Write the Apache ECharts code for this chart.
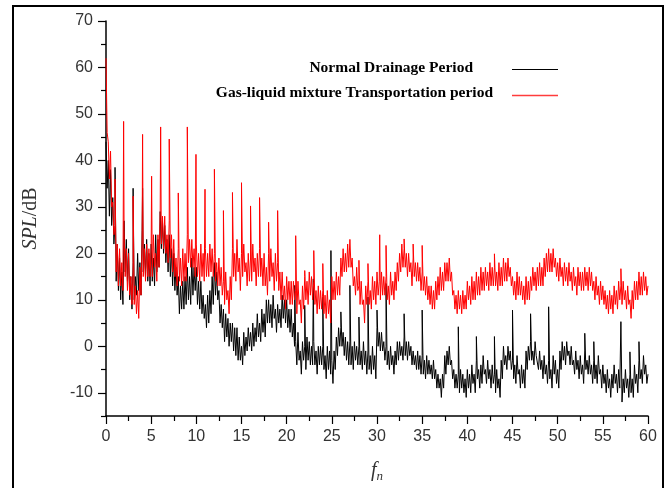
<!DOCTYPE html>
<html>
<head>
<meta charset="utf-8">
<script src="https://cdn.jsdelivr.net/npm/echarts@6/dist/echarts.min.js"></script>
<style>
  html, body { margin: 0; padding: 0; background: #fff; }
  #chart { width: 670px; height: 488px; }
</style>
</head>
<body>
<div id="chart"></div>
<script>
    var STEP = 0.125;
    var normal_base = [
        44, 34, 40, 28, 38, 26, 32, 22,
        26, 14, 22, 12, 19, 10, 16, 9,
        27, 16, 23, 14, 21, 10, 15, 8,
        18, 10, 15, 11, 20, 12, 18, 11,
        25, 16, 22, 15, 23, 14, 20, 13,
        22, 14, 19, 13, 24, 16, 23, 17,
        29, 21, 27, 20, 26, 18, 23, 16,
        24, 15, 21, 13, 20, 12, 17, 11,
        15, 7, 13, 8, 14, 8, 15, 9,
        17, 10, 15, 9, 19, 11, 17, 12,
        17, 9, 14, 8, 14, 7, 11, 6,
        9, 4, 11, 5, 12, 7, 15, 9,
        18, 11, 16, 10, 12, 5, 9, 4,
        8, 1, 7, 2, 6, 0, 5, 1,
        5, -1, 4, -2, 4, -3, 2, -3,
        0, -4, 3, -2, 2, -1, 4, 0,
        3, -1, 5, 0, 4, 1, 7, 2,
        5, 1, 8, 3, 7, 2, 10, 5,
        10, 5, 9, 4, 11, 6, 8, 3,
        9, 5, 8, 4, 11, 6, 10, 5,
        10, 4, 8, 3, 8, 2, 5, 0,
        1, -4, 3, -3, -1, -6, 1, -3,
        0, -5, 2, -3, 1, -4, 0, -4,
        1, -4, -1, -6, 0, -4, 0, -4,
        0, -5, -2, -7, 0, -5, -1, -6,
        -3, -8, -1, -5, 2, -2, 4, 0,
        4, 0, 3, -2, 2, -3, 1, -4,
        1, -4, 0, -5, 1, -3, 0, -4,
        0, -4, -1, -5, 1, -4, -1, -6,
        -1, -5, -2, -6, 0, -5, -2, -7,
        4, 0, 3, -1, 3, -1, 1, -3,
        0, -4, -1, -5, 0, -4, -2, -6,
        -1, -4, 1, -3, 1, -2, 0, -3,
        2, -2, 1, -3, 1, -2, 0, -4,
        -1, -4, -2, -5, -1, -5, -2, -6,
        -2, -6, -3, -7, -2, -6, -3, -6,
        -4, -7, -3, -7, -5, -9, -6, -9,
        -7, -11, -6, -9, -2, -6, -1, -4,
        0, -4, -3, -7, -5, -9, -6, -9,
        -6, -10, -5, -9, -6, -10, -7, -11,
        -5, -9, -6, -10, -4, -8, -6, -10,
        -3, -7, -5, -9, -4, -8, -2, -6,
        -5, -8, -3, -7, -5, -9, -4, -8,
        -6, -10, -5, -9, -7, -11, -3, -7,
        0, -4, -2, -5, 0, -3, -1, -5,
        -3, -7, -4, -8, -2, -6, -5, -9,
        -4, -8, -5, -9, -1, -5, 0, -3,
        1, -3, -1, -4, 1, -2, -2, -5,
        -1, -5, -3, -7, -2, -6, -4, -8,
        -3, -7, -5, -9, -2, -6, -3, -8,
        -5, -9, -1, -5, 1, -3, 0, -4,
        1, -2, -1, -4, 0, -4, -3, -6,
        -1, -5, -3, -7, -2, -6, -4, -8,
        -1, -5, -3, -6, -2, -6, -4, -8,
        -3, -7, -4, -8, -2, -6, -5, -9,
        -4, -8, -6, -10, -5, -9, -7, -11,
        -6, -9, -4, -8, -6, -10, -5, -9,
        -9, -12, -7, -10, -5, -9, -7, -11,
        -6, -10, -7, -11, -4, -8, -6, -10,
        -3, -7, -5, -8, -2, -6, -4, -8,
        -6
    ];
    var mixture_base = [
        62, 46, 44, 36, 42, 30, 31, 24,
        26, 16, 22, 13, 21, 13, 18, 12,
        25, 15, 21, 12, 20, 11, 15, 9,
        16, 9, 13, 7, 12, 6, 17, 11,
        23, 15, 21, 14, 22, 15, 21, 15,
        21, 15, 24, 17, 20, 14, 24, 17,
        29, 22, 28, 21, 28, 20, 24, 18,
        27, 19, 24, 16, 23, 15, 19, 13,
        21, 14, 19, 13, 21, 14, 20, 14,
        24, 18, 23, 17, 23, 17, 21, 15,
        22, 15, 20, 14, 22, 15, 20, 14,
        21, 15, 20, 15, 22, 16, 21, 15,
        20, 14, 18, 13, 19, 13, 17, 11,
        14, 9, 16, 10, 12, 7, 15, 10,
        21, 15, 20, 14, 23, 16, 19, 12,
        20, 15, 22, 16, 18, 13, 20, 14,
        19, 14, 22, 16, 19, 13, 20, 15,
        21, 15, 19, 13, 20, 13, 17, 11,
        20, 14, 21, 15, 18, 12, 20, 14,
        18, 12, 16, 10, 16, 10, 13, 8,
        15, 10, 14, 9, 14, 9, 14, 10,
        12, 7, 14, 9, 10, 5, 13, 8,
        15, 10, 14, 9, 16, 11, 15, 10,
        14, 9, 12, 7, 13, 8, 12, 8,
        12, 7, 11, 6, 12, 7, 10, 5,
        15, 10, 14, 10, 16, 11, 15, 11,
        19, 15, 21, 16, 20, 16, 22, 17,
        23, 17, 19, 13, 15, 11, 17, 12,
        13, 9, 14, 9, 10, 5, 13, 9,
        14, 9, 12, 8, 15, 10, 14, 9,
        16, 11, 14, 10, 16, 11, 15, 11,
        15, 10, 13, 9, 16, 11, 14, 10,
        16, 12, 18, 14, 20, 16, 22, 17,
        21, 17, 20, 15, 20, 16, 18, 13,
        19, 15, 18, 14, 18, 14, 17, 12,
        16, 12, 15, 11, 15, 10, 13, 9,
        13, 8, 12, 8, 14, 10, 15, 11,
        17, 12, 16, 12, 18, 14, 18, 14,
        19, 14, 16, 11, 12, 8, 11, 7,
        12, 8, 11, 7, 12, 8, 11, 8,
        14, 10, 13, 9, 15, 10, 14, 10,
        16, 11, 15, 11, 17, 12, 16, 12,
        17, 13, 16, 12, 18, 13, 17, 13,
        17, 13, 16, 12, 18, 13, 17, 13,
        19, 14, 18, 14, 19, 15, 17, 13,
        15, 11, 14, 10, 16, 11, 15, 11,
        14, 10, 13, 9, 15, 10, 14, 10,
        15, 12, 17, 13, 16, 12, 17, 13,
        18, 13, 17, 13, 19, 15, 20, 16,
        21, 16, 20, 16, 21, 17, 19, 15,
        18, 14, 19, 15, 17, 13, 18, 14,
        17, 13, 18, 14, 16, 12, 17, 13,
        15, 11, 17, 13, 16, 12, 16, 12,
        17, 13, 16, 12, 17, 13, 16, 12,
        14, 10, 15, 11, 13, 9, 14, 10,
        13, 9, 12, 8, 11, 7, 12, 8,
        11, 7, 13, 9, 12, 8, 14, 10,
        13, 9, 14, 10, 12, 8, 13, 9,
        10, 6, 12, 8, 14, 10, 14, 10,
        16, 11, 15, 11, 16, 12, 15, 11,
        13
    ];

    // narrow harmonic peaks
    var normal_peak_x = [1.0, 3.0, 4.05, 20.9, 22.0, 22.95, 24.0, 24.9, 26.0, 27.0, 28.0, 29.0, 30.0, 31.0,
                         33.0, 35.0, 39.0, 41.0, 43.0, 45.0, 47.0, 49.0, 53.0, 54.0, 57.0, 58.0, 59.0];
    var normal_peak_y = [38.5, 34, 34, 13.1, 8.8, 14.5, 10.6, 20.6, 7.4, 13.1, 6.3, 10.6, 7.8, 13.5,
                         7, 7.8, 4.2, 2.1, 2.1, 7.8, 7, 8.5, 2.8, 1, 5.3, -1.2, 1];
    var mixture_peak_x = [1.0, 1.95, 3.0, 4.05, 5.05, 6.05, 7.0, 8.0, 9.0, 9.96, 10.96, 12.0, 13.0, 14.0,
                          15.0, 16.0, 17.0, 18.0, 19.0, 21.0, 22.0, 23.0, 24.0, 27.0, 28.0, 29.0, 30.3,
                          31.0, 33.0, 34.0, 35.0, 39.0, 43.0, 57.0];
    var mixture_peak_y = [36, 48.4, 32.3, 45.6, 36.6, 47.2, 44.6, 33, 47.2, 41.3, 33.8, 38.1, 29.2, 33.1,
                          35.2, 30.2, 32, 26.7, 29.2, 23.8, 16.3, 20.6, 17.8, 23.1, 18.5, 17.8, 24,
                          21.7, 23.1, 22, 21.7, 12, 19.9, 16.7];

    var y_major = [-10, 0, 10, 20, 30, 40, 50, 60, 70];
    var y_minor = [-15, -5, 5, 15, 25, 35, 45, 55, 65];

    function build_points(base, peak_x, peak_y){
        var pts = [];
        for(var i=0;i<base.length;i++){
            pts.push([i*STEP, base[i]]);
        }
        for(var j=0;j<peak_x.length;j++){
            pts.push([peak_x[j], peak_y[j]]);
        }
        pts.sort(function(a, b){ return a[0] - b[0]; });
        return pts;
    }

    var myChart = echarts.init(document.getElementById('chart'));
    var label_style = { color: '#333', fontFamily: 'Liberation Sans, Arial', fontSize: 16 };
    var legend_font = 'bold 15.5px "Liberation Serif", "Times New Roman", serif';
    var serif = 'Liberation Serif, Times New Roman';

    option = {
        animation: false,
        backgroundColor: '#fff',
        grid: { left: 106, right: 22, top: 21, bottom: 70 },
        xAxis: {
            type: 'value',
            min: 0, max: 60, interval: 5,
            splitLine: { show: false },
            axisLine: { onZero: false, lineStyle: { color: '#000', width: 1.5 } },
            axisTick: { inside: false, length: 8, lineStyle: { color: '#000', width: 1.2 } },
            minorTick: { show: true, splitNumber: 2, length: 5, lineStyle: { color: '#000', width: 1.2 } },
            axisLabel: Object.assign({ margin: 13 }, label_style),
            name: '{f|f}{s|n}',
            nameLocation: 'middle',
            nameGap: 42,
            nameTextStyle: {
                rich: {
                    f: { fontFamily: serif, fontStyle: 'italic', fontSize: 20, color: '#333' },
                    s: { fontFamily: serif, fontStyle: 'italic', fontSize: 13, color: '#333', padding: [12, 0, 0, 0] }
                }
            }
        },
        yAxis: [
            {
                type: 'value',
                min: -15, max: 70,
                splitLine: { show: false },
                axisLine: { show: true, onZero: false, lineStyle: { color: '#000', width: 1.5 } },
                axisTick: { show: true, length: 8, customValues: y_major, lineStyle: { color: '#000', width: 1.2 } },
                axisLabel: Object.assign({ margin: 13, customValues: y_major }, label_style),
                name: '{i|SPL}{n|/dB}',
                nameLocation: 'middle',
                nameRotate: 90,
                nameGap: 65,
                nameTextStyle: {
                    rich: {
                        i: { fontFamily: serif, fontStyle: 'italic', fontSize: 20, color: '#333' },
                        n: { fontFamily: serif, fontSize: 20, color: '#333' }
                    }
                }
            },
            {
                type: 'value',
                min: -15, max: 70,
                position: 'left',
                splitLine: { show: false },
                axisLine: { show: false, onZero: false },
                axisTick: { show: true, length: 5, customValues: y_minor, lineStyle: { color: '#000', width: 1.2 } },
                axisLabel: { show: false }
            }
        ],
        graphic: [
            { id: 'frame', type: 'rect', shape: { x: 13, y: 6, width: 650, height: 500 }, style: { fill: 'none', stroke: '#000', lineWidth: 2 }, silent: true },
            { id: 'leg1_text', type: 'text', x: 473, y: 68, style: { text: 'Normal Drainage Period', fill: '#000', font: legend_font, align: 'right', verticalAlign: 'middle' } },
            { id: 'leg1_line', type: 'line', z: 10, shape: { x1: 512, y1: 69.5, x2: 558, y2: 69.5 }, style: { stroke: '#000000', lineWidth: 1 } },
            { id: 'leg2_text', type: 'text', x: 493, y: 93, style: { text: 'Gas-liquid mixture Transportation period', fill: '#000', font: legend_font, align: 'right', verticalAlign: 'middle' } },
            { id: 'leg2_line', type: 'line', z: 10, shape: { x1: 512, y1: 95.5, x2: 558, y2: 95.5 }, style: { stroke: 'rgb(255,60,60)', lineWidth: 1.5 } }
        ],
        series: [
            {
                name: 'Normal Drainage Period',
                type: 'line',
                showSymbol: false,
                lineStyle: { color: '#000', width: 1 },
                itemStyle: { color: '#000' },
                data: build_points(normal_base, normal_peak_x, normal_peak_y)
            },
            {
                name: 'Gas-liquid mixture Transportation period',
                type: 'line',
                showSymbol: false,
                lineStyle: { color: '#ff0000', width: 1 },
                itemStyle: { color: '#ff0000' },
                data: build_points(mixture_base, mixture_peak_x, mixture_peak_y)
            }
        ]
    };
    myChart.setOption(option);
</script>
</body>
</html>
